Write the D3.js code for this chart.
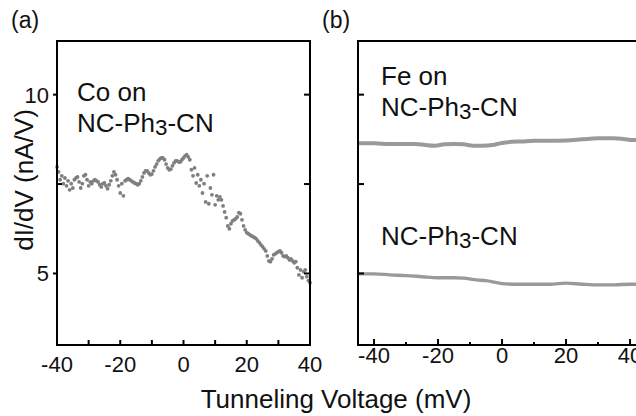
<!DOCTYPE html>
<html>
<head>
<meta charset="utf-8">
<script src="https://cdn.jsdelivr.net/npm/d3@7"></script>
<style>
  body { margin: 0; background: #fff; }
  svg { display: block; }
  text { font-family: "Liberation Sans", Arial, Helvetica, sans-serif; fill: #111; }
</style>
</head>
<body>
<svg id="chart" width="636" height="416"></svg>
<script>
// Panel (a): Co adatom on NC-Ph3-CN, dI/dV (nA/V) sampled every 0.5 mV from -40 to 40 mV
const coVoltage = d3.range(-40, 40.001, 0.5);
const coDidv = [
  7.98, 7.84, 7.62, 7.73, 7.51, 7.67, 7.45, 7.59, 7.34, 7.51,
  7.39, 7.62, 7.67, 7.70, 7.56, 7.39, 7.51, 7.73, 7.76, 7.62,
  7.45, 7.56, 7.51, 7.59, 7.62, 7.59, 7.56, 7.48, 7.42, 7.51,
  7.53, 7.45, 7.37, 7.48, 7.59, 7.73, 7.84, 7.76, 7.62, 7.45,
  7.25, 7.51, 7.17, 7.59, 7.62,
  7.65, 7.62, 7.59, 7.56, 7.53, 7.51, 7.48, 7.51, 7.59, 7.70,
  7.81, 7.87, 7.87, 7.81, 7.76, 7.78, 7.87, 7.98, 8.06, 8.15,
  8.20, 8.23, 8.23, 8.18, 8.06, 7.95, 7.90, 7.92, 8.01, 8.09,
  8.15, 8.15, 8.12, 8.12, 8.18, 8.23, 8.29, 8.32, 8.26,
  8.18, 7.90, 7.73, 7.95, 7.53, 7.76, 7.45, 7.62, 7.25, 7.51,
  7.00, 7.73, 6.95, 7.39, 7.20, 7.76, 6.92, 7.17, 7.06, 7.14,
  7.06, 6.89, 6.72, 6.56, 6.33, 6.25, 6.39, 6.47, 6.50, 6.53,
  6.58, 6.70, 6.67, 6.50, 6.33, 6.22, 6.14, 6.11, 6.08, 6.05,
  6.03, 6.00, 5.97, 5.91, 5.86, 5.80, 5.75, 5.69, 5.63, 5.49,
  5.35, 5.33, 5.41, 5.52, 5.55, 5.58, 5.61, 5.63, 5.58, 5.49,
  5.47, 5.49, 5.44, 5.38, 5.41, 5.35, 5.30, 5.33, 5.16, 4.96,
  5.10, 4.88, 5.05, 5.10, 4.91, 4.80, 4.74
];

// Panel (b): Fe adatom on NC-Ph3-CN
const feVoltage = [-45, -40, -35, -30, -27, -24, -21, -18, -15, -12, -9, -6, -3, 0, 3, 6, 10, 15, 20, 25, 30, 35, 38, 41, 45];
const feDidv    = [8.64, 8.64, 8.62, 8.62, 8.62, 8.59, 8.57, 8.61, 8.62, 8.61, 8.57, 8.57, 8.59, 8.65, 8.68, 8.69, 8.71, 8.71, 8.72, 8.75, 8.78, 8.78, 8.76, 8.73, 8.73];

// Panel (b): bare NC-Ph3-CN
const bareVoltage = [-45, -40, -35, -30, -25, -20, -15, -12, -8, -5, -2, 1, 5, 10, 15, 20, 25, 30, 35, 40, 45];
const bareDidv    = [4.99, 4.99, 4.96, 4.94, 4.91, 4.88, 4.88, 4.87, 4.82, 4.80, 4.75, 4.71, 4.70, 4.70, 4.70, 4.73, 4.70, 4.68, 4.68, 4.70, 4.70];

// Axis ticks
const yMajorTicks = [5, 10];
const yMinorTicks = [7.5];
const xMajorTicks = [-40, -20, 0, 20, 40];
const xMinorTicks = [-30, -10, 10, 30];

const svg = d3.select("#chart");
const plotTop = 41, plotBottom = 345;
const axisColor = "#000";
const dataGray = "#7f7f7f";
const lineGray = "#9a9a9a";

const y = d3.scaleLinear().domain([3, 11.5]).range([plotBottom, plotTop]);
const xa = d3.scaleLinear().domain([-40, 40]).range([57, 310]);
const xb = d3.scaleLinear().domain([-45, 45]).range([358, 646]);

function frame(g, x, withRight) {
  const [x0, x1] = x.range();
  g.append("line").attr("x1", x0).attr("x2", x0).attr("y1", plotTop).attr("y2", plotBottom);
  g.append("line").attr("x1", x0).attr("x2", x1).attr("y1", plotTop).attr("y2", plotTop);
  g.append("line").attr("x1", x0).attr("x2", x1).attr("y1", plotBottom).attr("y2", plotBottom);
  if (withRight) g.append("line").attr("x1", x1).attr("x2", x1).attr("y1", plotTop).attr("y2", plotBottom);
  g.selectAll("line").attr("stroke", axisColor).attr("stroke-width", 2).attr("stroke-linecap", "square");
}

// ---------- Panel (a) ----------
const ga = svg.append("g");

ga.append("g").selectAll("circle")
  .data(coVoltage.map((v, i) => [v, coDidv[i]]))
  .join("circle")
  .attr("cx", d => xa(d[0]))
  .attr("cy", d => y(d[1]))
  .attr("r", 1.9)
  .attr("fill", dataGray);

const fa = ga.append("g");
frame(fa, xa, true);

// bottom ticks (inward)
ga.append("g").selectAll("line")
  .data(xMajorTicks.concat(xMinorTicks))
  .join("line")
  .attr("x1", d => xa(d)).attr("x2", d => xa(d))
  .attr("y1", plotBottom).attr("y2", plotBottom - 5)
  .attr("stroke", axisColor).attr("stroke-width", 2);

// left ticks: major outward, minor inward
ga.append("g").selectAll("line")
  .data(yMajorTicks)
  .join("line")
  .attr("x1", xa.range()[0] - 4).attr("x2", xa.range()[0])
  .attr("y1", d => y(d)).attr("y2", d => y(d))
  .attr("stroke", axisColor).attr("stroke-width", 2);
ga.append("g").selectAll("line")
  .data(yMinorTicks)
  .join("line")
  .attr("x1", xa.range()[0]).attr("x2", xa.range()[0] + 5)
  .attr("y1", d => y(d)).attr("y2", d => y(d))
  .attr("stroke", axisColor).attr("stroke-width", 2);

// right ticks (inward)
ga.append("g").selectAll("line")
  .data(yMajorTicks.concat(yMinorTicks))
  .join("line")
  .attr("x1", xa.range()[1] - 6).attr("x2", xa.range()[1])
  .attr("y1", d => y(d)).attr("y2", d => y(d))
  .attr("stroke", axisColor).attr("stroke-width", 2);

// tick labels
ga.append("g").selectAll("text")
  .data(xMajorTicks)
  .join("text")
  .attr("x", d => xa(d)).attr("y", 372)
  .attr("text-anchor", "middle")
  .attr("font-size", 22)
  .text(d => d);

ga.append("g").selectAll("text")
  .data(yMajorTicks)
  .join("text")
  .attr("x", 49).attr("y", d => y(d) + 8)
  .attr("text-anchor", "end")
  .attr("font-size", 22)
  .text(d => d);

// ---------- Panel (b) ----------
const gb = svg.append("g");

const line = d3.line()
  .x(d => xb(d[0]))
  .y(d => y(d[1]))
  .curve(d3.curveMonotoneX);

gb.append("path")
  .datum(feVoltage.map((v, i) => [v, feDidv[i]]))
  .attr("d", line)
  .attr("fill", "none")
  .attr("stroke", lineGray)
  .attr("stroke-width", 4);

gb.append("path")
  .datum(bareVoltage.map((v, i) => [v, bareDidv[i]]))
  .attr("d", line)
  .attr("fill", "none")
  .attr("stroke", lineGray)
  .attr("stroke-width", 3.4);

const fb = gb.append("g");
frame(fb, xb, false);

gb.append("g").selectAll("line")
  .data(xMajorTicks)
  .join("line")
  .attr("x1", d => xb(d)).attr("x2", d => xb(d))
  .attr("y1", plotBottom).attr("y2", plotBottom - 6)
  .attr("stroke", axisColor).attr("stroke-width", 2);
gb.append("g").selectAll("line")
  .data(xMinorTicks)
  .join("line")
  .attr("x1", d => xb(d)).attr("x2", d => xb(d))
  .attr("y1", plotBottom).attr("y2", plotBottom - 3)
  .attr("stroke", axisColor).attr("stroke-width", 2);

gb.append("g").selectAll("line")
  .data(yMajorTicks.concat(yMinorTicks))
  .join("line")
  .attr("x1", xb.range()[0]).attr("x2", xb.range()[0] + 6)
  .attr("y1", d => y(d)).attr("y2", d => y(d))
  .attr("stroke", axisColor).attr("stroke-width", 2);

gb.append("g").selectAll("text")
  .data(xMajorTicks)
  .join("text")
  .attr("x", d => xb(d)).attr("y", 363)
  .attr("text-anchor", "middle")
  .attr("font-size", 22)
  .text(d => d);

// ---------- Labels ----------
function molecule(sel) {
  sel.append("tspan").text("NC-Ph");
  sel.append("tspan").attr("font-size", "86%").attr("dy", 3).text("3");
  sel.append("tspan").attr("dy", -3).text("-CN");
}

svg.append("text").attr("x", 11).attr("y", 28).attr("font-size", 23).text("(a)");
svg.append("text").attr("x", 322).attr("y", 28).attr("font-size", 23).text("(b)");

svg.append("text").attr("x", 77).attr("y", 101).attr("font-size", 26).text("Co on");
svg.append("text").attr("x", 77).attr("y", 132).attr("font-size", 26).call(molecule);

svg.append("text").attr("x", 381).attr("y", 85).attr("font-size", 26).text("Fe on");
svg.append("text").attr("x", 381).attr("y", 116).attr("font-size", 26).call(molecule);

svg.append("text").attr("x", 381).attr("y", 245).attr("font-size", 26).call(molecule);

svg.append("text")
  .attr("transform", "translate(33,180) rotate(-90)")
  .attr("text-anchor", "middle")
  .attr("font-size", 26)
  .text("dI/dV (nA/V)");

svg.append("text")
  .attr("x", 336).attr("y", 408)
  .attr("text-anchor", "middle")
  .attr("font-size", 26)
  .text("Tunneling Voltage (mV)");
</script>
</body>
</html>
